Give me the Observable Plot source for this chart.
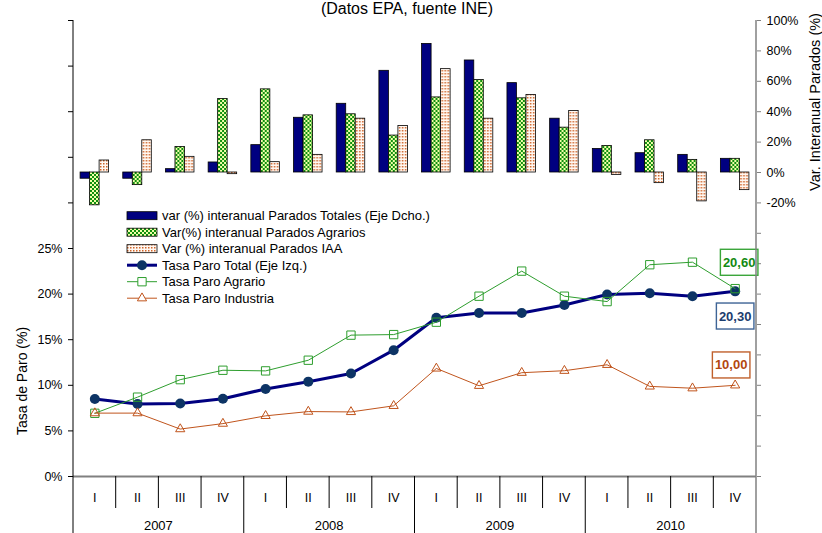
<!DOCTYPE html>
<html lang="es">
<head>
<meta charset="utf-8">
<script src="https://cdn.jsdelivr.net/npm/d3@7"></script>
<script src="https://cdn.jsdelivr.net/npm/@observablehq/plot@0.6"></script>
<style>
html,body{margin:0;padding:0;background:#fff;overflow:hidden;}
#wrap{position:relative;width:822px;height:533px;overflow:hidden;font-family:"Liberation Sans",Arial,sans-serif;color:#000;background:#fff;}
#wrap svg.layer{position:absolute;left:0;top:0;}
</style>
</head>
<body>
<div id="wrap"></div>
<script>
// ---------- data ----------
const quarters = ["I", "II", "III", "IV"];
const years = ["2007", "2008", "2009", "2010"];

// Variación interanual de parados (%) – eje derecho
const varTotales  = [-4.1, -4.1, 2.2, 6.6, 18.0, 36.0, 45.2, 66.9, 84.6, 73.7, 58.8, 35.4, 15.5, 12.7, 11.6, 9.0];
const varAgrarios = [-21.6, -8.3, 16.8, 48.3, 54.7, 37.6, 38.3, 24.3, 49.4, 60.8, 48.8, 29.5, 17.5, 21.2, 8.3, 9.0];
const varIAA      = [7.9, 21.2, 10.3, -1.1, 6.8, 11.6, 35.4, 30.6, 68.0, 35.4, 51.0, 40.4, -1.7, -7.0, -19.0, -11.6];

// Tasa de paro (%) – eje izquierdo
const tasaTotal     = [8.5, 7.95, 8.0, 8.52, 9.6, 10.4, 11.3, 13.85, 17.4, 17.92, 17.93, 18.8, 19.95, 20.1, 19.77, 20.3];
const tasaAgrario   = [6.93, 8.7, 10.62, 11.65, 11.58, 12.75, 15.5, 15.56, 16.92, 19.77, 22.52, 19.77, 19.18, 23.22, 23.5, 20.6];
const tasaIndustria = [6.95, 6.95, 5.2, 5.8, 6.65, 7.12, 7.08, 7.75, 11.85, 9.95, 11.38, 11.6, 12.25, 9.88, 9.68, 10.0];

const leftTicks = [0, 5, 10, 15, 20, 25, 30, 35, 40, 45, 50];
const leftLabelMax = 25;
const rightTicks = [-200, -180, -160, -140, -120, -100, -80, -60, -40, -20, 0, 20, 40, 60, 80, 100];
const rightLabelMin = -20;

const legendLabels = [
  "var (%) interanual Parados Totales (Eje Dcho.)",
  "Var(%) interanual Parados Agrarios",
  "Var (%) interanual Parados IAA",
  "Tasa Paro Total (Eje Izq.)",
  "Tasa Paro Agrario",
  "Tasa Paro Industria"
];
const titleText = "(Datos EPA, fuente INE)";
const leftTitle = "Tasa de Paro (%)";
const rightTitle = "Var. Interanual Parados (%)";

// ---------- layout / style ----------
const W = 822, H = 533;
const M = {top: 20, right: 66, bottom: 57, left: 73};
const FONT = "'Liberation Sans', Arial, sans-serif";
const C = {
  navy: "#000080", marker: "#0d3465",
  green: "#2e9e2e", brown: "#c0541c",
  patGreen: "#0f8f0f", patYellow: "#f2ffa8", patDot: "#d0652a",
  axisGray: "#808080"
};
const baseStyle = {background: "transparent", fontFamily: FONT, fontSize: "12.5px", color: "#000"};

const periods = years.flatMap(y => quarters.map(q => `${q} ${y}`));
const fmtES = v => d3.format(".2f")(v).replace(".", ",");

// ---------- bars (right axis) ----------
const barRows = periods.map((p, i) => ({period: p, totales: varTotales[i], agrarios: varAgrarios[i], iaa: varIAA[i]}));
const seriesKeys = ["totales", "agrarios", "iaa"];

const barPlot = Plot.plot({
  width: W, height: H,
  marginTop: M.top, marginRight: M.right, marginBottom: M.bottom, marginLeft: M.left,
  style: baseStyle,
  fx: {domain: periods, paddingInner: 0, paddingOuter: 0, round: false, axis: null, label: null},
  x: {domain: seriesKeys, paddingInner: 0, paddingOuter: 0.745, round: false, axis: null},
  y: {domain: [-200, 100], axis: null},
  marks: [
    Plot.barY(barRows, {fx: "period", x: () => "totales", y: "totales", fill: C.navy, stroke: "#000", strokeWidth: 0.8}),
    Plot.barY(barRows, {fx: "period", x: () => "agrarios", y: "agrarios", fill: "url(#patAgr)", stroke: "#000", strokeWidth: 0.8}),
    Plot.barY(barRows, {fx: "period", x: () => "iaa", y: "iaa", fill: "url(#patIAA)", stroke: "#000", strokeWidth: 0.8}),
    Plot.axisY({anchor: "right", ticks: rightTicks, tickFormat: d => d >= rightLabelMin ? d + "%" : "",
      tickSize: 4, tickPadding: 6, stroke: C.axisGray, fill: "#000", label: null})
  ]
});

// ---------- lines (left axis) ----------
const lineRows = periods.map((p, i) => ({period: p, total: tasaTotal[i], agrario: tasaAgrario[i], industria: tasaIndustria[i]}));
const last = lineRows[lineRows.length - 1];
const valueLabels = [
  {key: "agrario", text: "#138a13", box: "#3aa53a", dx: 4, dy: -26},
  {key: "total", text: "#1c3d6e", box: "#3e6496", dx: 0, dy: 25},
  {key: "industria", text: "#b3470f", box: "#c0602c", dx: -4, dy: -20}
];

const linePlot = Plot.plot({
  width: W, height: H,
  marginTop: M.top, marginRight: M.right, marginBottom: M.bottom, marginLeft: M.left,
  style: baseStyle,
  x: {type: "band", domain: periods, padding: 0, round: false, axis: null},
  y: {domain: [0, 50], axis: null},
  marks: [
    Plot.ruleY([0], {stroke: C.axisGray, strokeWidth: 2}),
    Plot.axisY({anchor: "left", ticks: leftTicks, tickFormat: d => d <= leftLabelMax ? d + "%" : "",
      tickSize: 5, tickPadding: 6, stroke: "#000", fill: "#000", label: null}),
    Plot.axisX({anchor: "bottom", tickSize: 0, tickPadding: 17, tickFormat: p => p.split(" ")[0], label: null, fontSize: 12.5}),
    Plot.line(lineRows, {x: "period", y: "total", stroke: C.navy, strokeWidth: 3}),
    Plot.dot(lineRows, {x: "period", y: "total", r: 5, fill: C.marker, stroke: "none"}),
    Plot.line(lineRows, {x: "period", y: "agrario", stroke: C.green, strokeWidth: 1}),
    Plot.dot(lineRows, {x: "period", y: "agrario", symbol: "square", r: 4.7, fill: "none", stroke: C.green, strokeWidth: 1}),
    Plot.line(lineRows, {x: "period", y: "industria", stroke: C.brown, strokeWidth: 1}),
    Plot.dot(lineRows, {x: "period", y: "industria", symbol: "triangle", r: 3.4, fill: "none", stroke: C.brown, strokeWidth: 1}),
    ...valueLabels.map(l => Plot.text([last], {x: "period", y: l.key, text: d => fmtES(d[l.key]), dx: l.dx, dy: l.dy,
      fill: l.text, fontWeight: "bold", fontSize: 13}))
  ]
});

const wrap = document.getElementById("wrap");
barPlot.classList.add("layer");
linePlot.classList.add("layer");
wrap.appendChild(barPlot);
wrap.appendChild(linePlot);

// ---------- patterns ----------
const defs = d3.select(barPlot).insert("defs", ":first-child");
const pa = defs.append("pattern").attr("id", "patAgr").attr("patternUnits", "userSpaceOnUse").attr("width", 4).attr("height", 4);
pa.append("rect").attr("width", 4).attr("height", 4).attr("fill", C.patYellow);
pa.append("rect").attr("width", 2).attr("height", 2).attr("fill", C.patGreen);
pa.append("rect").attr("x", 2).attr("y", 2).attr("width", 2).attr("height", 2).attr("fill", C.patGreen);
const pi = defs.append("pattern").attr("id", "patIAA").attr("patternUnits", "userSpaceOnUse").attr("width", 3).attr("height", 3);
pi.append("rect").attr("width", 3).attr("height", 3).attr("fill", "#fff8f2");
pi.append("rect").attr("x", 1).attr("y", 1).attr("width", 1.5).attr("height", 1.5).attr("fill", C.patDot);

// ---------- decorations using the plot's own scales ----------
const svg = d3.select(linePlot);
const xs = linePlot.scale("x");
const ys = linePlot.scale("y");
const bw = xs.bandwidth;
const yBottom = ys.apply(0), yTop = ys.apply(50);
const xLeft = xs.range[0], xRight = xs.range[1];
const bandStart = p => xLeft + periods.indexOf(p) * bw;

// value label boxes (the three text marks are the plot's only "text" groups)
svg.selectAll('g[aria-label="text"]').each(function (_, gi) {
  const l = valueLabels[gi];
  if (!l) return;
  d3.select(this).selectAll("text").each(function () {
    const b = this.getBBox();
    d3.select(this.parentNode).insert("rect", () => this)
      .attr("x", b.x - 2.5).attr("y", b.y - 5.5).attr("width", b.width + 5).attr("height", b.height + 11)
      .attr("fill", "#fff").attr("stroke", l.box).attr("stroke-width", 1.4)
      .attr("transform", this.getAttribute("transform"));
  });
});

const deco = svg.append("g").attr("class", "deco").attr("font-family", FONT).attr("fill", "#000");
// axis lines
deco.append("line").attr("x1", xLeft).attr("x2", xLeft).attr("y1", yTop).attr("y2", H).attr("stroke", "#000").attr("stroke-width", 1);
deco.append("line").attr("x1", xRight).attr("x2", xRight).attr("y1", yTop).attr("y2", H).attr("stroke", C.axisGray).attr("stroke-width", 1.5);
// category separators
periods.forEach((p, i) => {
  if (i === 0) return;
  const x = bandStart(p);
  deco.append("line").attr("x1", x).attr("x2", x).attr("y1", yBottom).attr("y2", i % 4 === 0 ? H : yBottom + 32)
    .attr("stroke", "#000").attr("stroke-width", 1);
});
// year labels
years.forEach(y => {
  deco.append("text").attr("x", bandStart(`III ${y}`)).attr("y", 529.5).attr("text-anchor", "middle")
    .attr("font-size", 13).text(y);
});
// titles
deco.append("text").attr("x", 407).attr("y", 13.5).attr("text-anchor", "middle").attr("font-size", 16).text(titleText);
deco.append("text").attr("transform", "translate(26.5,381) rotate(-90)").attr("text-anchor", "middle").attr("font-size", 14).text(leftTitle);
deco.append("text").attr("transform", "translate(820,102) rotate(-90)").attr("text-anchor", "middle").attr("font-size", 14.5).text(rightTitle);

// legend
const lg = svg.append("g").attr("class", "legend").attr("font-family", FONT).attr("font-size", 13).attr("text-anchor", "start");
const lx = 127, ly = 215.7, lstep = 16.5, lw = 30;
const legendSwatches = [
  {kind: "rect", fill: C.navy},
  {kind: "rect", fill: "url(#patAgr)"},
  {kind: "rect", fill: "url(#patIAA)"},
  {kind: "line", stroke: C.navy, sw: 3, sym: d3.symbolCircle, r: 5, mfill: C.marker, mstroke: "none"},
  {kind: "line", stroke: C.green, sw: 1, sym: d3.symbolSquare, r: 4.7, mfill: "#fff", mstroke: C.green},
  {kind: "line", stroke: C.brown, sw: 1, sym: d3.symbolTriangle, r: 3.4, mfill: "#fff", mstroke: C.brown}
];
legendSwatches.forEach((s, i) => {
  const cy = ly + i * lstep;
  if (s.kind === "rect") {
    lg.append("rect").attr("x", lx).attr("y", cy - 4).attr("width", lw).attr("height", 8)
      .attr("fill", s.fill).attr("stroke", "#000").attr("stroke-width", 0.8);
  } else {
    lg.append("line").attr("x1", lx).attr("x2", lx + lw).attr("y1", cy).attr("y2", cy)
      .attr("stroke", s.stroke).attr("stroke-width", s.sw);
    lg.append("path").attr("d", d3.symbol(s.sym, Math.PI * s.r * s.r)())
      .attr("transform", `translate(${lx + lw / 2},${cy})`)
      .attr("fill", s.mfill).attr("stroke", s.mstroke).attr("stroke-width", 1);
  }
  lg.append("text").attr("x", lx + lw + 5).attr("y", cy).attr("dy", "0.35em").attr("fill", "#000").text(legendLabels[i]);
});
</script>
</body>
</html>
